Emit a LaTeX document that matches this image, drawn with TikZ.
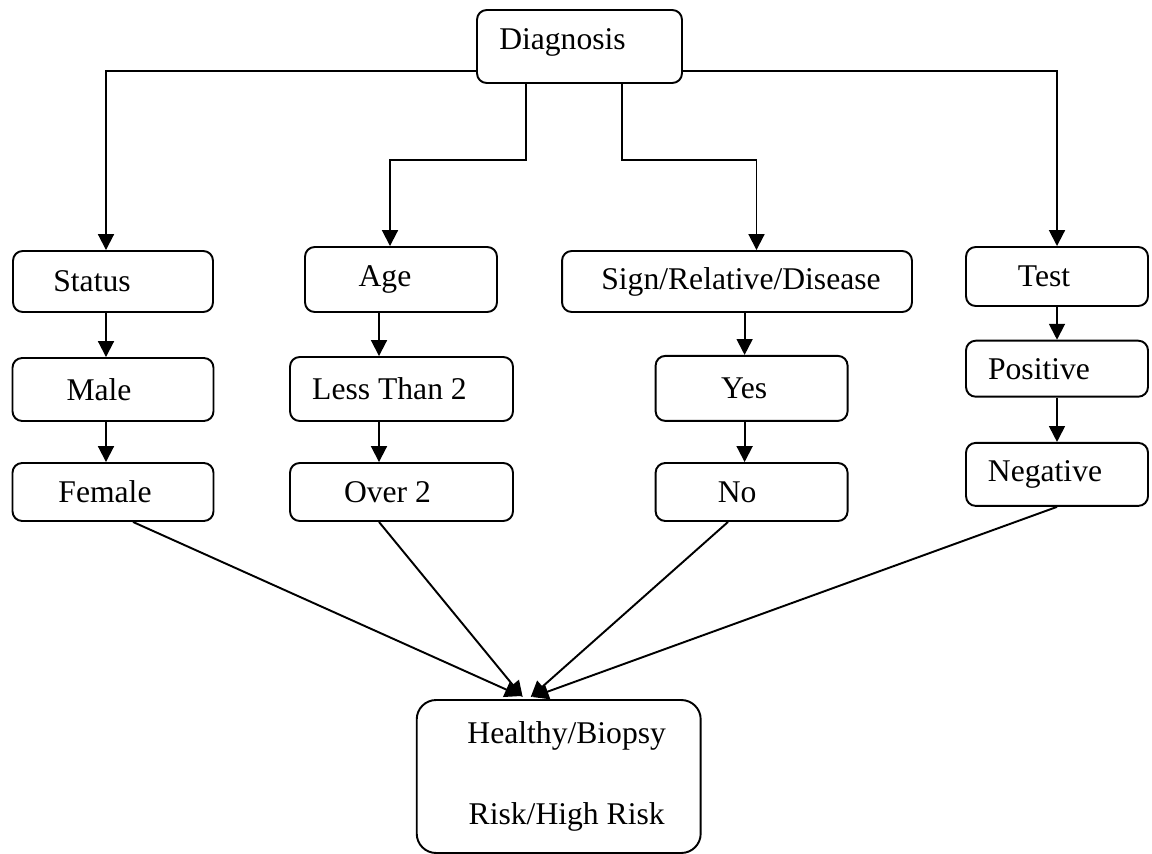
\documentclass[tikz,border=0pt]{standalone}
\usepackage{fontspec}
\setmainfont{Liberation Serif}
\usetikzlibrary{calc,arrows.meta}

\tikzset{
	box/.style={draw, line width=1.1pt, rounded corners=5.5pt, inner sep=0pt},
	arr/.style={line width=1.1pt, -{Triangle[length=9pt,width=9pt]}},
	every label/.style={font=\fontsize{18}{22}\selectfont},
}

\begin{document}
\begin{tikzpicture}[x=0.02cm, y=-0.02cm]

	\useasboundingbox (0,0) rectangle (1152,854);

	% top box
	\node[box, minimum width=4.1cm, minimum height=1.46cm,
		label={[xshift=-0.34cm, yshift=0.08cm]center:Diagnosis}] (diag) at (579.5,46.5) {};

	% first row
	\node[box, minimum width=4cm, minimum height=1.22cm,
		label={[xshift=-0.42cm]center:Status}] (status) at (113,281.5) {};
	\node[box, minimum width=3.84cm, minimum height=1.3cm,
		label={[xshift=-0.32cm]center:Age}] (age) at (401,279.5) {};
	\node[box, minimum width=7cm, minimum height=1.22cm,
		label={[xshift=0.08cm]center:Sign/Relative/Disease}] (sign) at (737,281.5) {};
	\node[box, minimum width=3.64cm, minimum height=1.18cm,
		label={[xshift=-0.26cm]center:Test}] (test) at (1057,276.5) {};

	% second row
	\node[box, minimum width=4.02cm, minimum height=1.26cm,
		label={[xshift=-0.28cm]center:Male}] (male) at (113,389.5) {};
	\node[box, minimum width=4.46cm, minimum height=1.28cm,
		label={[xshift=-0.24cm]center:Less Than 2}] (less) at (401.5,389) {};
	\node[box, minimum width=3.84cm, minimum height=1.3cm,
		label={[xshift=-0.15cm]center:Yes}] (yes) at (751.6,388.4) {};
	\node[box, minimum width=3.64cm, minimum height=1.12cm,
		label={[xshift=-0.36cm]center:Positive}] (pos) at (1057,368.7) {};

	% third row
	\node[box, minimum width=4.02cm, minimum height=1.16cm,
		label={[xshift=-0.16cm]center:Female}] (female) at (113,492) {};
	\node[box, minimum width=4.46cm, minimum height=1.16cm,
		label={[xshift=-0.28cm]center:Over 2}] (over) at (401.5,492) {};
	\node[box, minimum width=3.84cm, minimum height=1.16cm,
		label={[xshift=-0.29cm]center:No}] (no) at (751.6,492) {};
	\node[box, minimum width=3.64cm, minimum height=1.26cm,
		label={[xshift=-0.24cm]center:Negative}] (neg) at (1057,474.4) {};

	% result box
	\node[box, rounded corners=11pt, minimum width=5.68cm, minimum height=3.06cm,
		label={[align=center, xshift=0.16cm]center:{Healthy/Biopsy\\[24.5pt]Risk/High Risk}}]
		(final) at (558.7,776.5) {};

	% branches from the top
	\draw[arr] ($(diag.south west)+(0,-13)$) -| ($(status.north)+(-7,0)$);
	\draw[arr] ($(diag.south)+(-53.5,0)$) -- ++(0,76) -| ($(age.north)+(-11,0)$);
	\draw[arr] ($(diag.south)+(42.5,0)$) -- ++(0,76) -| ($(sign.north)+(19.5,0)$);
	\draw[arr] ($(diag.south east)+(0,-13)$) -| (test.north);

	% columns
	\draw[arr] ($(status.south)+(-7,0)$) -- ($(male.north)+(-7,0)$);
	\draw[arr] ($(male.south)+(-7,0)$) -- ($(female.north)+(-7,0)$);
	\draw[arr] ($(age.south)+(-22,0)$) -- ($(less.north)+(-22.5,0)$);
	\draw[arr] ($(less.south)+(-22.5,0)$) -- ($(over.north)+(-22.5,0)$);
	\draw[arr] ($(sign.south)+(7.6,0)$) -- ($(yes.north)+(-7,0)$);
	\draw[arr] ($(yes.south)+(-7,0)$) -- ($(no.north)+(-7,0)$);
	\draw[arr] (test.south) -- (pos.north);
	\draw[arr] (pos.south) -- (neg.north);

	% into the result
	\draw[arr] ($(female.south)+(20,0)$) -- ($(final.north)+(-38,-3)$);
	\draw[arr] ($(over.south)+(-22.5,0)$) -- ($(final.north)+(-36,-2)$);
	\draw[arr] ($(no.south)+(-23.6,0)$) -- ($(final.north)+(-28,-2)$);
	\draw[arr] (neg.south) -- ($(final.north)+(-26,-2)$);

\end{tikzpicture}
\end{document}
